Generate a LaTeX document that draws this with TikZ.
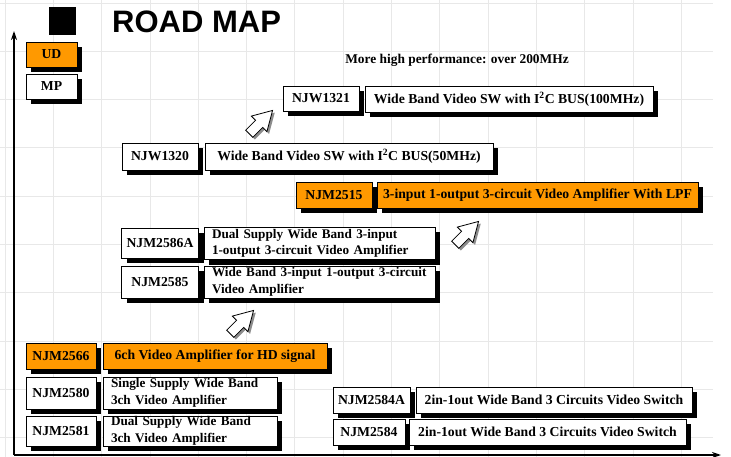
\documentclass[tikz,border=0pt]{standalone}
\usepackage{fontspec}
\setmainfont{Liberation Serif}
\newfontfamily\titlefont{Liberation Sans}
\usetikzlibrary{shadows,arrows.meta}
\definecolor{orangeA}{RGB}{255,153,0}
\definecolor{gridgray}{RGB}{232,232,232}
\newcommand{\boxfont}{\fontsize{13.7}{16.6}\selectfont\bfseries}
\tikzset{
  bx/.style={draw=black, line width=0.8pt, fill=white, inner sep=0pt,
    font=\boxfont, drop shadow={shadow xshift=5pt, shadow yshift=-5pt, opacity=1, fill=black}},
  obx/.style={bx, fill=orangeA},
  twoline/.style={align=left, text width=#1, font=\fontsize{13.2}{16.6}\selectfont\bfseries},
  blockarrow/.style={draw=black, line width=0.8pt, fill=white},
  arrowshadow/.style={fill=black!45, draw=none},
  axis/.style={line width=1.4pt, -{Stealth[length=9pt,width=6pt]}}
}
\newcommand{\arrowpath}{(-11,-5) -- (3,-5) -- (3,-11) -- (22,0) -- (3,11) -- (3,5) -- (-11,5) -- cycle}
\newcommand{\blockarrowat}[2]{%
  \begin{scope}[shift={(#1+2.2,#2+2.2)}, rotate=45]
    \fill[arrowshadow] \arrowpath;
  \end{scope}
  \begin{scope}[shift={(#1,#2)}, rotate=45]
    \draw[blockarrow] \arrowpath;
  \end{scope}}
\begin{document}
\begin{tikzpicture}[x=1pt,y=-1pt]
\useasboundingbox (0,0) rectangle (731,457);
% grid
\foreach \gx in {5,53.3,...,713} \draw[gridgray, line width=0.8pt] (\gx,0) -- (\gx,457);
\foreach \gy in {3,51.3,...,457} \draw[gridgray, line width=0.8pt] (0,\gy) -- (713,\gy);
% axes
\coordinate (origin) at (14,455);
\coordinate (ytip) at (14,31);
\coordinate (xtip) at (721,455);
\draw[axis] (origin) -- (ytip);
\draw[axis] (origin) -- (xtip);
% title
\node[fill=black, minimum width=27, minimum height=28, inner sep=0pt] (sq) at (62.5,21) {};
\node[anchor=west, inner sep=0pt, font=\titlefont\bfseries\fontsize{31}{31}\selectfont] (title) at (112,22) {ROAD MAP};
% legend
\node[obx, minimum width=51, minimum height=25] (ud) at (51.5,54.5) {UD};
\node[bx, minimum width=51, minimum height=25] (mp) at (51.5,86.5) {MP};
\node[font=\fontsize{13.4}{15}\selectfont\bfseries, inner sep=0pt] (note) at (457,60) {More high performance: over 200MHz};
% rows
\node[bx, minimum width=76, minimum height=25] (njw1321) at (321,98.5) {NJW1321};
\node[bx, minimum width=288, minimum height=26] (d1321) at (509,99) {Wide Band Video SW with I\textsuperscript{2}C BUS(100MHz)};
\node[bx, minimum width=76, minimum height=27] (njw1320) at (160,156.5) {NJW1320};
\node[bx, minimum width=288, minimum height=27] (d1320) at (349,156.5) {Wide Band Video SW with I\textsuperscript{2}C BUS(50MHz)};
\node[obx, minimum width=76, minimum height=26] (njm2515) at (334,195) {NJM2515};
\node[obx, minimum width=321, minimum height=26] (d2515) at (537.5,195) {3-input 1-output 3-circuit Video Amplifier With LPF};
\node[bx, minimum width=77, minimum height=30] (njm2586a) at (160,243) {NJM2586A};
\node[bx, minimum width=231, minimum height=32, twoline=215] (d2586a) at (319.5,243.5) {\mbox{Dual Supply Wide Band 3-input}\\\mbox{1-output 3-circuit Video Amplifier}};
\node[bx, minimum width=77, minimum height=32] (njm2585) at (160,282) {NJM2585};
\node[bx, minimum width=231, minimum height=32, twoline=215] (d2585) at (319.5,282) {\mbox{Wide Band 3-input 1-output 3-circuit}\\\mbox{Video Amplifier}};
\node[obx, minimum width=70, minimum height=26] (njm2566) at (61,356) {NJM2566};
\node[obx, minimum width=224, minimum height=26] (d2566) at (215,356) {6ch Video Amplifier for HD signal};
\node[bx, minimum width=70, minimum height=32] (njm2580) at (61,393) {NJM2580};
\node[bx, minimum width=174, minimum height=32, twoline=158] (d2580) at (190,393) {\mbox{Single Supply Wide Band}\\\mbox{3ch Video Amplifier}};
\node[bx, minimum width=70, minimum height=30] (njm2581) at (61,431) {NJM2581};
\node[bx, minimum width=174, minimum height=30, twoline=158] (d2581) at (190,431) {\mbox{Dual Supply Wide Band}\\\mbox{3ch Video Amplifier}};
\node[bx, minimum width=77, minimum height=26] (njm2584a) at (371.5,400) {NJM2584A};
\node[bx, minimum width=276, minimum height=26] (d2584a) at (554,400) {2in-1out Wide Band 3 Circuits Video Switch};
\node[bx, minimum width=72, minimum height=26] (njm2584) at (369,432) {NJM2584};
\node[bx, minimum width=277, minimum height=26] (d2584) at (547.5,432) {2in-1out Wide Band 3 Circuits Video Switch};
% block arrows
\blockarrowat{257}{126}
\blockarrowat{463}{237}
\blockarrowat{238}{326}
\end{tikzpicture}
\end{document}
